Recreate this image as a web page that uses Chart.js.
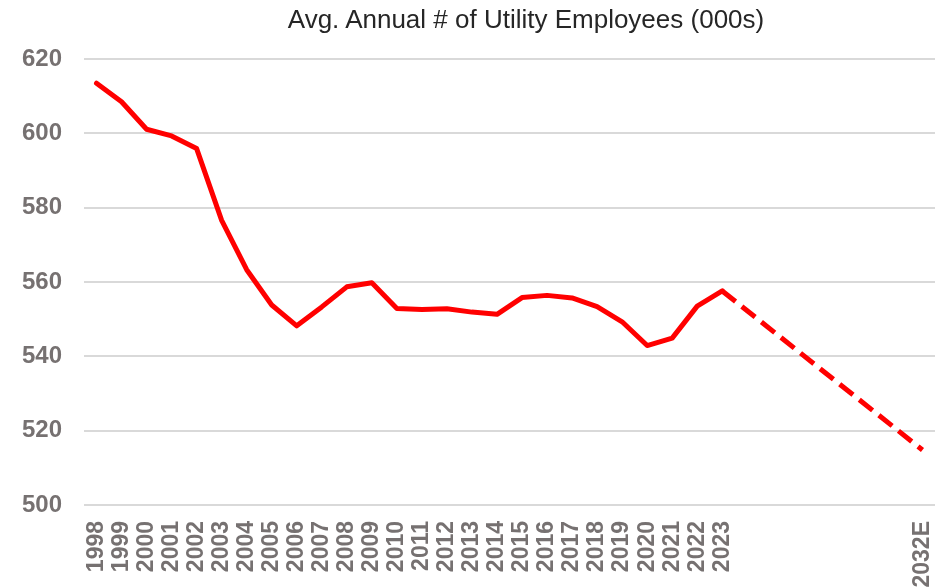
<!DOCTYPE html>
<html>
<head>
<meta charset="utf-8">
<script src="https://cdn.jsdelivr.net/npm/chart.js@4"></script>
<style>
  html, body { margin: 0; padding: 0; background: #fff; }
  #wrap { position: relative; width: 941px; height: 587px; }
  #title {
    position: absolute; left: 526px; top: 4px; transform: translateX(-50%);
    font: 26px "Liberation Sans", Arial, sans-serif; color: #262626; white-space: nowrap;
  }
</style>
</head>
<body>
<div id="wrap">
  <div id="title">Avg. Annual # of Utility Employees (000s)</div>
  <canvas id="chart" width="941" height="587"></canvas>
</div>
<script>
// x categories: 1998..2023, blank years, then the 2032 estimate
const years = ['1998','1999','2000','2001','2002','2003','2004','2005','2006','2007','2008','2009','2010',
               '2011','2012','2013','2014','2015','2016','2017','2018','2019','2020','2021','2022','2023',
               '','','','','','','','2032E'];

// actual employees (000s), 1998..2023
const actual = [613.5, 608.5, 601.1, 599.3, 595.9, 576.6, 563.3, 553.8, 548.2, 553.3, 558.7, 559.8, 552.9,
                552.6, 552.8, 551.9, 551.3, 555.8, 556.4, 555.7, 553.4, 549.3, 542.9, 544.9, 553.5, 557.6];

// projection: from 2023 to 2032E
const projStart = 557.6;
const projEnd   = 514.8;

const yTicks = { min: 500, max: 620, step: 20 };

const solidData = years.map((_, i) => i < actual.length ? actual[i] : null);
const dashData  = years.map((_, i) => i === actual.length - 1 ? projStart : (i === years.length - 1 ? projEnd : null));

const tickColor = '#767171';

new Chart(document.getElementById('chart').getContext('2d'), {
  type: 'line',
  data: {
    labels: years,
    datasets: [
      {
        data: solidData,
        borderColor: '#ff0000',
        borderWidth: 5,
        pointRadius: 0,
        tension: 0,
        borderJoinStyle: 'round',
        borderCapStyle: 'round',
      },
      {
        data: dashData,
        borderColor: '#ff0000',
        borderWidth: 5,
        borderDash: [17, 8],
        pointRadius: 0,
        spanGaps: true,
        tension: 0,
      },
    ],
  },
  options: {
    responsive: false,
    animation: false,
    layout: { padding: { top: 59, left: 0, right: 6, bottom: 0 } },
    plugins: { legend: { display: false }, tooltip: { enabled: false } },
    scales: {
      x: {
        offset: true,
        grid: { display: false, drawTicks: false },
        border: { display: false },
        afterFit: s => { s.height = 82; s.paddingLeft = 0; s.paddingRight = 0; },
        ticks: {
          autoSkip: false,
          maxRotation: 90,
          minRotation: 90,
          padding: 16,
          color: tickColor,
          font: { family: '"Liberation Sans", Arial, sans-serif', size: 23, weight: 'bold' },
        },
      },
      y: {
        min: yTicks.min,
        max: yTicks.max,
        grid: { color: '#d9d9d9', lineWidth: 2, drawTicks: false },
        border: { display: false },
        afterFit: s => { s.width = 84; },
        ticks: {
          stepSize: yTicks.step,
          padding: 22,
          color: tickColor,
          font: { family: '"Liberation Sans", Arial, sans-serif', size: 24, weight: 'bold' },
        },
      },
    },
  },
});
</script>
</body>
</html>
